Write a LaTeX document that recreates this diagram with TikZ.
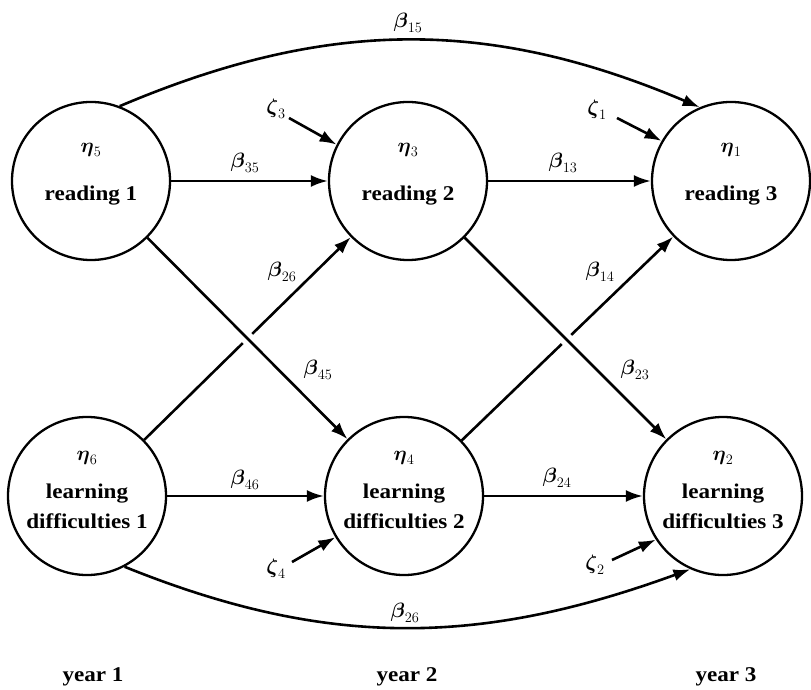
\documentclass[tikz,border=0pt]{standalone}
\usepackage{fontspec}
\setmainfont{Liberation Serif}[FakeStretch=1.1]
\usepackage{amsmath}
\usetikzlibrary{arrows.meta,calc}

\begin{document}
\begin{tikzpicture}[x=1pt,y=1pt,
  every node/.style={font=\fontsize{21}{25}\selectfont\bfseries},
  latent/.style={circle, draw, line width=2.3pt, minimum size=158pt, inner sep=0pt},
  effect/.style={line width=2.6pt, -{Latex[length=17pt,width=12pt]}},
  txt/.style={inner sep=0pt},
  gap/.style={white, line width=13pt}
]
\useasboundingbox (0,0) rectangle (811,689);

% latent variables
\node[latent] (n5) at (91,508) {};
\node[latent] (n3) at (408,508) {};
\node[latent] (n1) at (731,508) {};
\node[latent] (n6) at (87,193) {};
\node[latent] (n4) at (404,193) {};
\node[latent] (n2) at (723,193) {};

% texts inside the circles
\node[txt] (e5) at (91,539) {$\boldsymbol{\eta}_5$};
\node[txt] (r1) at (91,493) {reading 1};
\node[txt] (e3) at (408,539) {$\boldsymbol{\eta}_3$};
\node[txt] (r2) at (408,493) {reading 2};
\node[txt] (e1) at (731,539) {$\boldsymbol{\eta}_1$};
\node[txt] (r3) at (731,493) {reading 3};
\node[txt] (e6) at (87,231) {$\boldsymbol{\eta}_6$};
\node[txt] (l1) at (87,195) {learning};
\node[txt] (d1) at (87,168) {difficulties 1};
\node[txt] (e4) at (404,231) {$\boldsymbol{\eta}_4$};
\node[txt] (l2) at (404,195) {learning};
\node[txt] (d2) at (404,168) {difficulties 2};
\node[txt] (e2) at (723,231) {$\boldsymbol{\eta}_2$};
\node[txt] (l3) at (723,195) {learning};
\node[txt] (d3) at (723,168) {difficulties 3};

% horizontal paths
\draw[effect] (n5) -- (n3);
\draw[effect] (n3) -- (n1);
\draw[effect] (n6) -- (n4);
\draw[effect] (n4) -- (n2);
\node[txt] (b35) at (245,526) {$\boldsymbol{\beta}_{35}$};
\node[txt] (b13) at (563,526) {$\boldsymbol{\beta}_{13}$};
\node[txt] (b46) at (245,209) {$\boldsymbol{\beta}_{46}$};
\node[txt] (b24) at (557,211) {$\boldsymbol{\beta}_{24}$};

% crossing paths: lower ones first, broken where crossed
\draw[effect] (n6) -- (n3);
\draw[effect] (n4) -- (n1);
\draw[gap] ($(n5)!0.48!(n4)$) -- ($(n5)!0.52!(n4)$);
\draw[gap] ($(n3)!0.48!(n2)$) -- ($(n3)!0.52!(n2)$);
\draw[effect] (n5) -- (n4);
\draw[effect] (n3) -- (n2);
\node[txt] (b26a) at (282,417) {$\boldsymbol{\beta}_{26}$};
\node[txt] (b45) at (318,319) {$\boldsymbol{\beta}_{45}$};
\node[txt] (b14) at (600,417) {$\boldsymbol{\beta}_{14}$};
\node[txt] (b23) at (635,319) {$\boldsymbol{\beta}_{23}$};

% lagged paths over two years
\draw[effect] (n5.69) to[out=23,in=157] (n1.113);
\draw[effect] (n6.-62) to[out=-22,in=-160] (n2.-114);
\node[txt] (b15) at (408,666) {$\boldsymbol{\beta}_{15}$};
\node[txt] (b26b) at (405,76) {$\boldsymbol{\beta}_{26}$};

% disturbances
\node[txt] (z3) at (276,580) {$\boldsymbol{\zeta}_3$};
\node[txt] (z1) at (597,579) {$\boldsymbol{\zeta}_1$};
\node[txt] (z4) at (276,120) {$\boldsymbol{\zeta}_4$};
\node[txt] (z2) at (595,124) {$\boldsymbol{\zeta}_2$};
\coordinate (z3t) at (289,571);
\coordinate (z1t) at (617,571);
\coordinate (z4t) at (292,127);
\coordinate (z2t) at (612,129);
\draw[effect] (z3t) -- (n3.153);
\draw[effect] (z1t) -- (n1.150);
\draw[effect] (z4t) -- (n4.211);
\draw[effect] (z2t) -- (n2.213);

% time points
\node[txt] (y1) at (93,12) {year 1};
\node[txt] (y2) at (407,12) {year 2};
\node[txt] (y3) at (726,12) {year 3};
\end{tikzpicture}
\end{document}
